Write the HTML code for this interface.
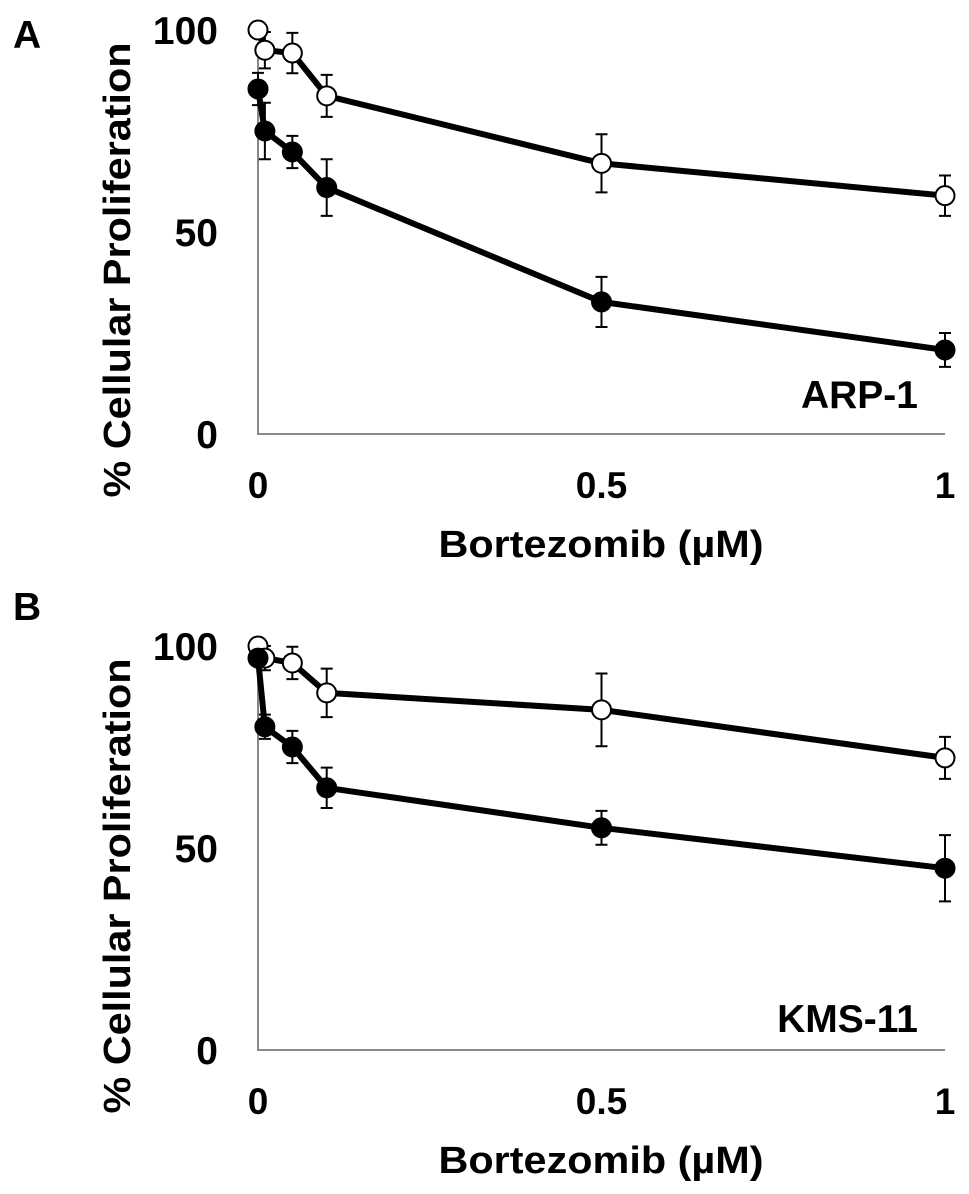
<!DOCTYPE html>
<html><head><meta charset="utf-8"><style>
html,body{margin:0;padding:0;background:#fff}
svg{display:block;font-family:"Liberation Sans",Arial,sans-serif;font-weight:bold}
</style></head><body>
<svg id="fig" width="969" height="1194" viewBox="0 0 969 1194"></svg>
<script>
const xVals = [0, 0.01, 0.05, 0.1, 0.5, 1];
const xTicks = [0, 0.5, 1];
const xTickLabels = ["0", "0.5", "1"];
const yTicks = [0, 50, 100];
const yTickLabels = ["0", "50", "100"];
const aOpen = [100, 95, 94.3, 83.7, 67, 59];
const aOpenErr = [0, 4.5, 5, 5.2, 7.2, 5];
const aSolid = [85.4, 75, 69.8, 61, 32.7, 20.8];
const aSolidErr = [4, 7, 4, 7, 6.2, 4.2];
const bOpen = [100, 97, 95.8, 88.4, 84.2, 72.3];
const bOpenErr = [0, 3, 4, 6, 9, 5.2];
const bSolid = [97, 80, 75, 64.9, 55, 45];
const bSolidErr = [0, 3, 4, 5, 4.2, 8.2];

const NS = "http://www.w3.org/2000/svg";
const svg = document.getElementById('fig');
function mk(tag, attrs, parent) {
  const e = document.createElementNS(NS, tag);
  for (const k in attrs) e.setAttribute(k, attrs[k]);
  (parent || svg).appendChild(e);
  return e;
}
function panel(key, letter, base, letterY, cellLabel, cellY, open, openErr, solid, solidErr) {
  const g = mk('g', {});
  
  
  const X = v => 258 + v * 687;
  const Y = v => base - v * 4.04;
  const L = mk('text', {x: 13, y: letterY, 'font-size': 39}, g);
  L.textContent = letter;
  
  
  const ax = mk('path', {d: `M${X(0)},${Y(100) + 12}V${base}H${X(1)}`, fill: 'none', stroke: '#888', 'stroke-width': 2}, g);
  
  
  yTicks.forEach((t, i) => {
    const tx = mk('text', {x: 218, y: Y(t) + 14, 'font-size': 39, 'text-anchor': 'end'}, g);
    tx.textContent = yTickLabels[i];
    
    
  });
  xTicks.forEach((t, i) => {
    const tx = mk('text', {x: X(t), y: base + 64, 'font-size': 37, 'text-anchor': 'middle'}, g);
    tx.textContent = xTickLabels[i];
    
    
  });
  const xt = mk('text', {x: 601, y: base + 123, 'font-size': 38, 'text-anchor': 'middle', textLength: 325, lengthAdjust: 'spacingAndGlyphs'}, g);
  xt.textContent = 'Bortezomib (µM)';
  
  
  const cy = base - 164;
  const yt = mk('text', {x: 118, y: cy, 'font-size': 38, 'text-anchor': 'middle', 'dominant-baseline': 'central', textLength: 455, lengthAdjust: 'spacingAndGlyphs', transform: `rotate(-90 118 ${cy})`}, g);
  yt.textContent = '% Cellular Proliferation';
  
  
  const cl = mk('text', {x: 918, y: cellY, 'font-size': 39, 'text-anchor': 'end'}, g);
  cl.textContent = cellLabel;
  
  
  [[open, openErr, '#fff', 'open'], [solid, solidErr, '#000', 'solid']].forEach(([vals, errs, fill, nm]) => {
    const ln = mk('polyline', {points: vals.map((v, i) => X(xVals[i]) + ',' + Y(v)).join(' '), fill: 'none', stroke: '#000', 'stroke-width': 6, 'stroke-linejoin': 'round'}, g);
    
    
    vals.forEach((v, i) => {
      if (errs[i] > 0) {
        const x = X(xVals[i]), y1 = Y(v + errs[i]), y2 = Y(v - errs[i]);
        const eb = mk('path', {d: `M${x},${y1}V${y2}M${x - 6},${y1}H${x + 6}M${x - 6},${y2}H${x + 6}`, stroke: '#000', 'stroke-width': 2, fill: 'none'}, g);
        
        
      }
    });
    vals.forEach((v, i) => {
      const c = mk('circle', {cx: X(xVals[i]), cy: Y(v), r: 9.5, fill: fill, stroke: '#000', 'stroke-width': 2}, g);
      
      
    });
  });
}
panel('a', 'A', 434, 48, 'ARP-1', 408, aOpen, aOpenErr, aSolid, aSolidErr);
panel('b', 'B', 1050, 620, 'KMS-11', 1032, bOpen, bOpenErr, bSolid, bSolidErr);
</script>
</body></html>
